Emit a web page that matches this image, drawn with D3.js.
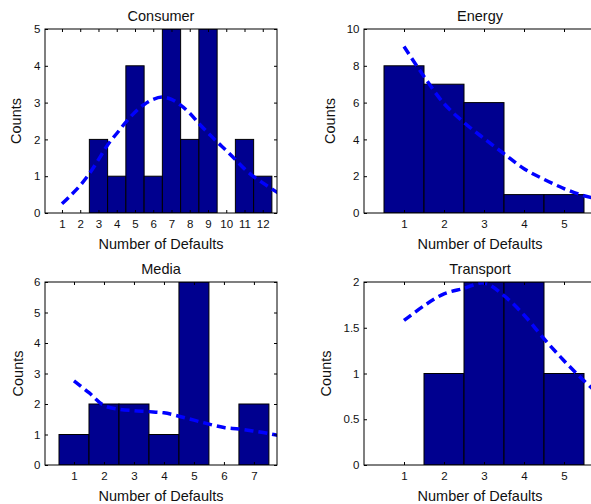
<!DOCTYPE html>
<html>
<head>
<meta charset="utf-8">
<script src="https://cdn.jsdelivr.net/npm/d3@7"></script>
<style>
  html, body { margin: 0; padding: 0; background: #fff; }
  svg text { font-family: "Liberation Sans", Arial, Helvetica, sans-serif; fill: #111; }
</style>
</head>
<body>
<svg id="chart" width="591" height="504"></svg>
<script>
// ---------- data ----------
const categories = ["Consumer", "Energy", "Media", "Transport"];

const consumerBins   = [1, 2, 3, 4, 5, 6, 7, 8, 9, 10, 11, 12];
const consumerCounts = [0, 0, 2, 1, 4, 1, 5, 2, 5, 0, 2, 1];
const consumerFitX   = [1, 1.5, 2, 2.5, 3, 3.5, 4, 4.5, 5, 5.5, 6, 6.5, 7, 7.5, 8, 8.5, 9, 9.5, 10, 10.5, 11, 11.5, 12, 12.5, 13];
const consumerFitY   = [0.25, 0.49, 0.75, 1.07, 1.45, 1.85, 2.16, 2.47, 2.74, 2.95, 3.09, 3.15, 3.09, 2.93, 2.71, 2.43, 2.18, 1.93, 1.70, 1.45, 1.20, 0.99, 0.82, 0.65, 0.50];
const consumerYTicks = [0, 1, 2, 3, 4, 5];

const energyBins   = [1, 2, 3, 4, 5];
const energyCounts = [8, 7, 6, 1, 1];
const energyFitX   = [1, 1.5, 2, 2.5, 3, 3.5, 4, 4.5, 5, 5.5, 6];
const energyFitY   = [9.05, 7.42, 5.95, 4.92, 4.05, 3.22, 2.41, 1.83, 1.33, 0.94, 0.70];
const energyYTicks = [0, 2, 4, 6, 8, 10];

const mediaBins   = [1, 2, 3, 4, 5, 6, 7];
const mediaCounts = [1, 2, 2, 1, 6, 0, 2];
const mediaFitX   = [1, 1.5, 2, 2.5, 3, 3.5, 4, 4.5, 5, 5.5, 6, 6.5, 7, 7.5, 8];
const mediaFitY   = [2.76, 2.37, 1.95, 1.83, 1.78, 1.75, 1.71, 1.60, 1.47, 1.34, 1.23, 1.18, 1.11, 1.03, 0.93];
const mediaYTicks = [0, 1, 2, 3, 4, 5, 6];

const transportBins   = [1, 2, 3, 4, 5];
const transportCounts = [0, 1, 2, 2, 1];
const transportFitX   = [1, 1.5, 2, 2.5, 3, 3.5, 4, 4.5, 5, 5.5, 6];
const transportFitY   = [1.58, 1.74, 1.87, 1.93, 1.99, 1.85, 1.64, 1.38, 1.14, 0.92, 0.72];
const transportYTicks = [0, 0.5, 1, 1.5, 2];

const xLabel = "Number of Defaults";
const yLabel = "Counts";

// ---------- layout (kept separate from data) ----------
const layout = [
  { left: 45,  top: 29,  w: 232, h: 184, xDom: [0.07, 12.78], ylabOff: -24 },
  { left: 364, top: 29,  w: 232, h: 184, xDom: [0, 5.8],      ylabOff: -29 },
  { left: 45,  top: 282, w: 232, h: 183, xDom: [0.033, 7.77], ylabOff: -22 },
  { left: 364, top: 282, w: 232, h: 183, xDom: [0, 5.8],      ylabOff: -33.5 }
];

const panels = [
  { name: categories[0], bins: consumerBins,  counts: consumerCounts,  fx: consumerFitX,  fy: consumerFitY,  yTicks: consumerYTicks },
  { name: categories[1], bins: energyBins,    counts: energyCounts,    fx: energyFitX,    fy: energyFitY,    yTicks: energyYTicks },
  { name: categories[2], bins: mediaBins,     counts: mediaCounts,     fx: mediaFitX,     fy: mediaFitY,     yTicks: mediaYTicks },
  { name: categories[3], bins: transportBins, counts: transportCounts, fx: transportFitX, fy: transportFitY, yTicks: transportYTicks }
];

const svg = d3.select("#chart");
const fmt = d3.format("~g");
const TICK = 3;

panels.forEach((p, i) => {
  const L = layout[i];
  const x = d3.scaleLinear().domain(L.xDom).range([0, L.w]);
  const y = d3.scaleLinear().domain([0, d3.max(p.yTicks)]).range([L.h, 0]);

  const g = svg.append("g").attr("transform", `translate(${L.left},${L.top})`);

  const clipId = "clip" + i;
  g.append("clipPath").attr("id", clipId)
    .append("rect").attr("x", 0).attr("y", 0).attr("width", L.w).attr("height", L.h);

  const plot = g.append("g").attr("clip-path", `url(#${clipId})`);

  // bars
  const barData = p.bins.map((b, k) => ({ b, c: p.counts[k] })).filter(d => d.c > 0);
  plot.selectAll("rect.bar").data(barData).enter().append("rect")
    .attr("class", "bar")
    .attr("x", d => x(d.b - 0.5))
    .attr("width", d => x(d.b + 0.5) - x(d.b - 0.5))
    .attr("y", d => y(d.c))
    .attr("height", d => y(0) - y(d.c))
    .attr("fill", "#00008f")
    .attr("stroke", "#000")
    .attr("stroke-width", 1);

  // fitted curve
  const line = d3.line()
    .x(d => x(d[0]))
    .y(d => y(d[1]))
    .curve(d3.curveCatmullRom.alpha(0.5));
  plot.append("path")
    .datum(p.fx.map((v, k) => [v, p.fy[k]]))
    .attr("d", line)
    .attr("fill", "none")
    .attr("stroke", "#0000ff")
    .attr("stroke-width", 3.5)
    .attr("stroke-dasharray", "9,5");

  // axes
  const axB = d3.axisBottom(x).tickValues(p.bins).tickFormat(fmt).tickSizeInner(-TICK).tickSizeOuter(0).tickPadding(7);
  const axT = d3.axisTop(x).tickValues(p.bins).tickFormat("").tickSizeInner(-TICK).tickSizeOuter(0);
  const axLft = d3.axisLeft(y).tickValues(p.yTicks).tickFormat(fmt).tickSizeInner(-TICK).tickSizeOuter(0).tickPadding(4.5);
  const axR = d3.axisRight(y).tickValues(p.yTicks).tickFormat("").tickSizeInner(-TICK).tickSizeOuter(0);

  const styleAxis = sel => {
    sel.select(".domain").remove();
    sel.selectAll(".tick line").attr("stroke", "#000").attr("stroke-width", 1);
    sel.selectAll(".tick text").style("font-size", "11.5px").attr("fill", "#111");
  };
  g.append("g").attr("transform", `translate(0,${L.h})`).call(axB).call(styleAxis);
  g.append("g").call(axT).call(styleAxis);
  g.append("g").call(axLft).call(styleAxis);
  g.append("g").attr("transform", `translate(${L.w},0)`).call(axR).call(styleAxis);

  // box
  g.append("rect")
    .attr("x", 0).attr("y", 0).attr("width", L.w).attr("height", L.h)
    .attr("fill", "none").attr("stroke", "#000").attr("stroke-width", 1);

  // title
  g.append("text")
    .attr("x", L.w / 2).attr("y", -8.5)
    .attr("text-anchor", "middle")
    .style("font-size", "14.5px")
    .text(p.name);

  // x label
  g.append("text")
    .attr("x", L.w / 2).attr("y", L.h + 35.5)
    .attr("text-anchor", "middle")
    .style("font-size", "14.5px")
    .text(xLabel);

  // y label
  g.append("text")
    .attr("transform", `translate(${L.ylabOff},${L.h / 2}) rotate(-90)`)
    .attr("text-anchor", "middle")
    .style("font-size", "14.5px")
    .text(yLabel);
});
</script>
</body>
</html>
